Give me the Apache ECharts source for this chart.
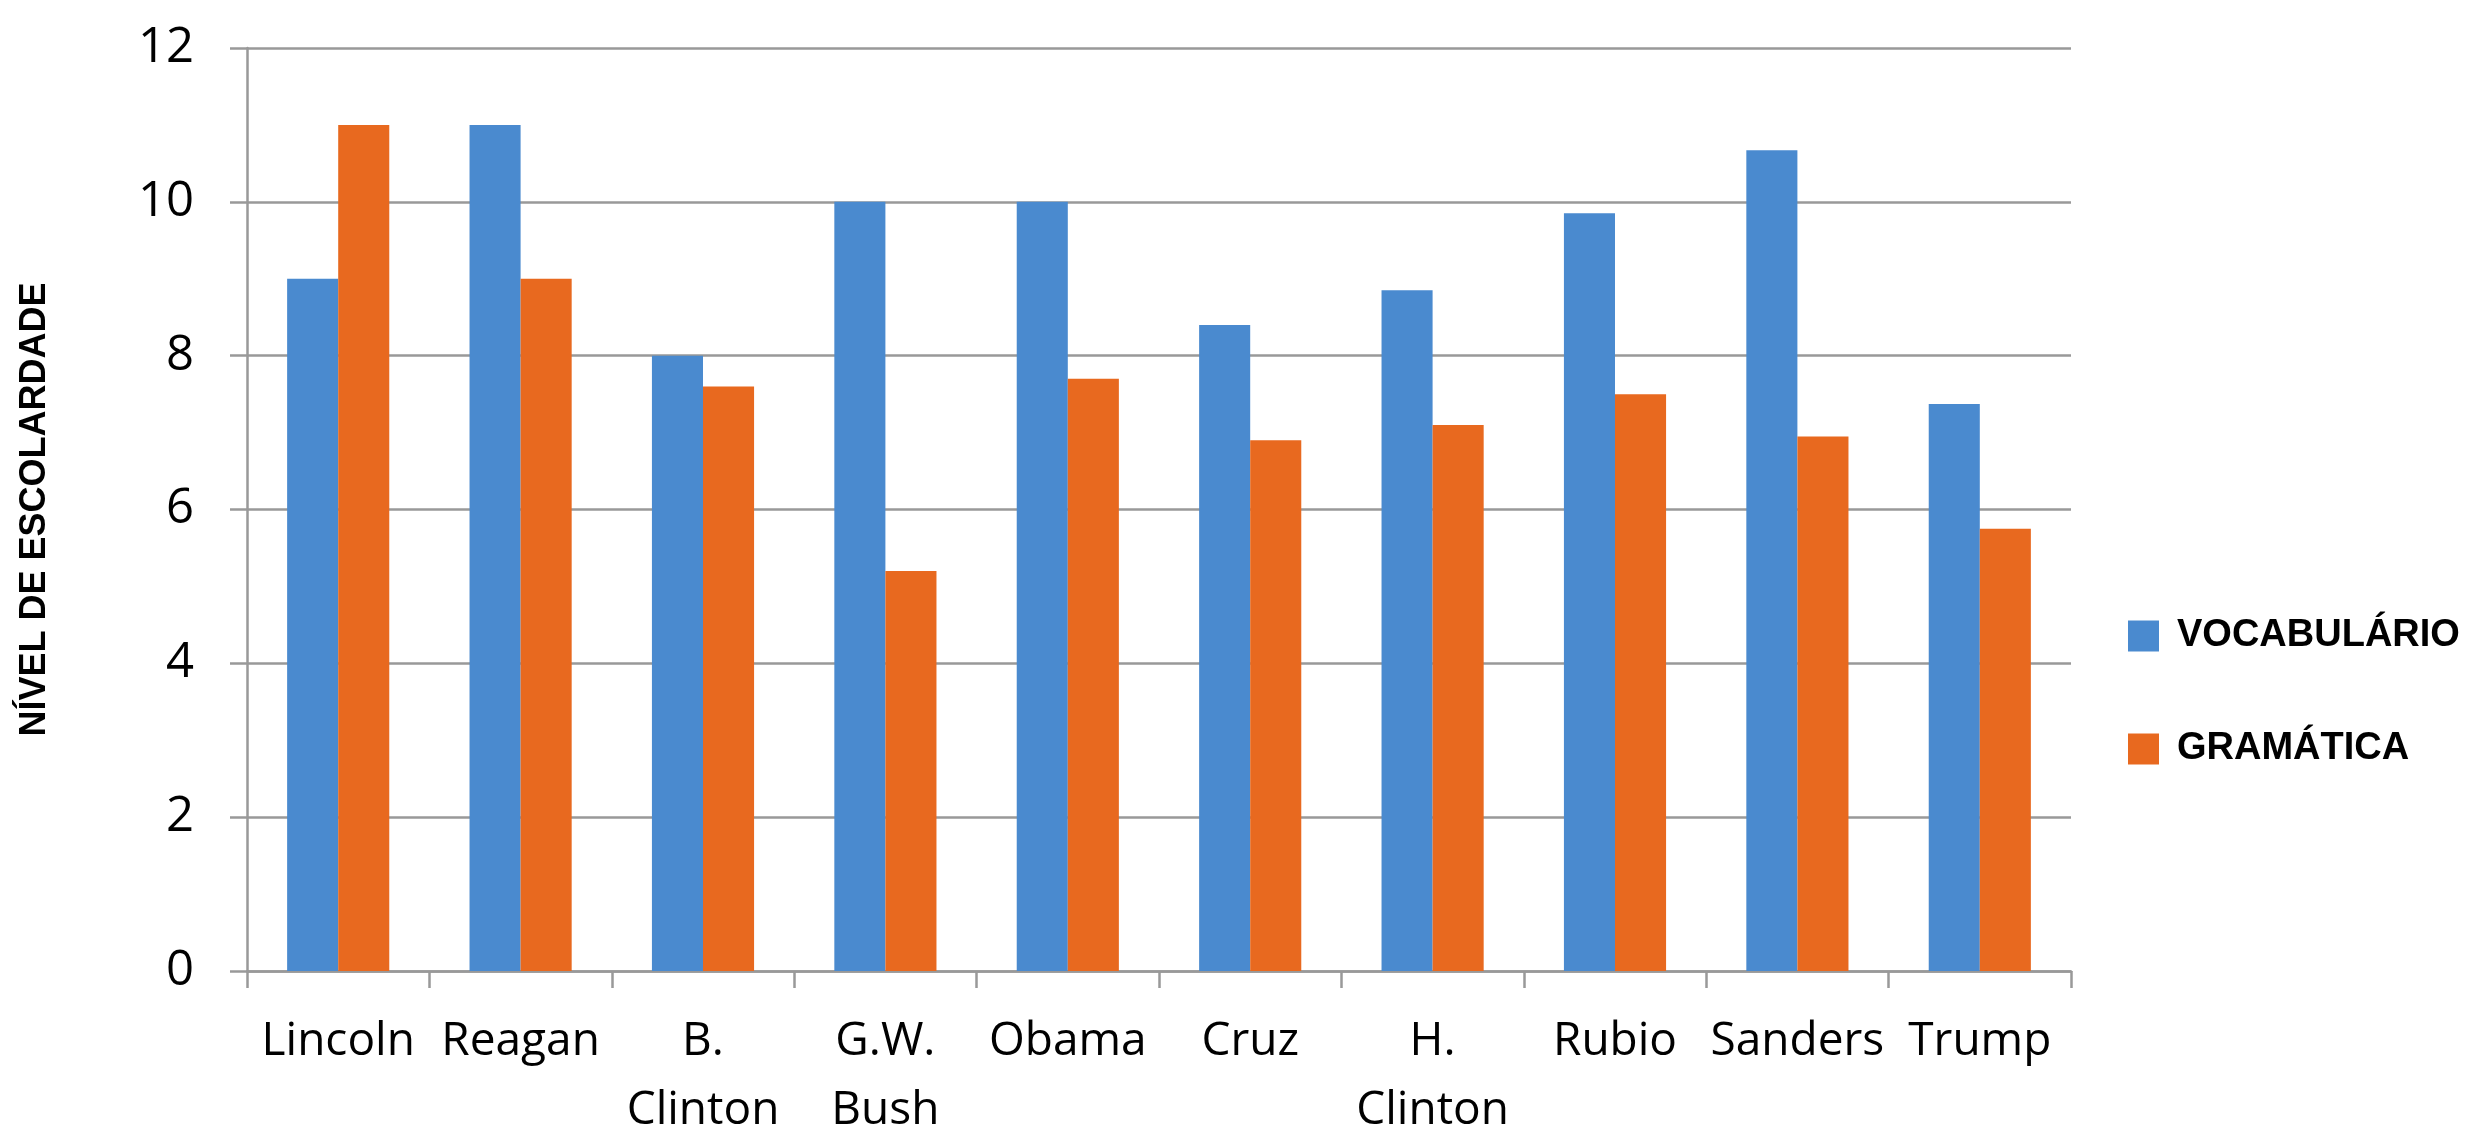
<!DOCTYPE html>
<html>
<head>
<meta charset="utf-8">
<script src="https://cdn.jsdelivr.net/npm/echarts@6/dist/echarts.min.js"></script>
<style>
  html, body { margin: 0; padding: 0; background: #ffffff; }
  #chart { width: 2486px; height: 1132px; }
</style>
</head>
<body>
<div id="chart"></div>
<script>
// Reading level of presidential candidates' speeches
const categories = ['Lincoln', 'Reagan', 'B.\nClinton', 'G.W.\nBush', 'Obama', 'Cruz', 'H.\nClinton', 'Rubio', 'Sanders', 'Trump'];
const vocabulario = [9, 11, 8, 10, 10, 8.4, 8.85, 9.85, 10.67, 7.37];
const gramatica = [11, 9, 7.6, 5.2, 7.7, 6.9, 7.1, 7.5, 6.95, 5.75];
const yTicks = { min: 0, max: 12, step: 2 };

const gridColor = '#999999';
const chart = echarts.init(document.getElementById('chart'));

chart.setOption({
  backgroundColor: '#ffffff',
  animation: false,
  grid: {
    left: 247, right: 415, top: 48, bottom: 161,
    containLabel: false,
    outerBoundsMode: 'none'
  },
  legend: {
    orient: 'vertical',
    left: 2123,
    top: 612,
    icon: 'rect',
    itemWidth: 31,
    itemHeight: 31,
    itemGap: 75,
    textStyle: {
      fontFamily: '"Liberation Sans", Arial, sans-serif',
      fontWeight: 'bold',
      fontSize: 38,
      lineHeight: 38,
      color: '#000000',
      padding: [0, 0, 0, 13]
    },
    data: ['VOCABULÁRIO', 'GRAMÁTICA']
  },
  xAxis: {
    type: 'category',
    data: categories,
    axisLine: { lineStyle: { color: gridColor, width: 2.5 } },
    axisTick: { show: true, length: 17, lineStyle: { color: gridColor, width: 2.5 } },
    axisLabel: {
      interval: 0,
      margin: 36,
      fontFamily: '"Open Sans", sans-serif',
      fontSize: 46,
      lineHeight: 69,
      color: '#000000',
      align: 'center'
    }
  },
  yAxis: {
    type: 'value',
    min: yTicks.min,
    max: yTicks.max,
    interval: yTicks.step,
    name: 'NÍVEL DE ESCOLARDADE',
    nameLocation: 'middle',
    nameRotate: 90,
    nameGap: 194,
    nameTextStyle: {
      fontFamily: '"Liberation Sans", Arial, sans-serif',
      fontWeight: 'bold',
      fontSize: 36,
      color: '#000000'
    },
    axisLine: { show: true, lineStyle: { color: gridColor, width: 2.5 } },
    axisTick: { show: true, length: 17, lineStyle: { color: gridColor, width: 2.5 } },
    splitLine: { show: true, lineStyle: { color: gridColor, width: 2.5 } },
    axisLabel: {
      margin: 53,
      fontFamily: '"Open Sans", sans-serif',
      fontSize: 49,
      color: '#000000'
    }
  },
  series: [
    {
      name: 'VOCABULÁRIO',
      type: 'bar',
      data: vocabulario,
      barGap: '0%',
      barCategoryGap: '44%',
      itemStyle: { color: '#4A8ACF' }
    },
    {
      name: 'GRAMÁTICA',
      type: 'bar',
      data: gramatica,
      barGap: '0%',
      barCategoryGap: '44%',
      itemStyle: { color: '#E8691F' }
    }
  ]
});
</script>
</body>
</html>
